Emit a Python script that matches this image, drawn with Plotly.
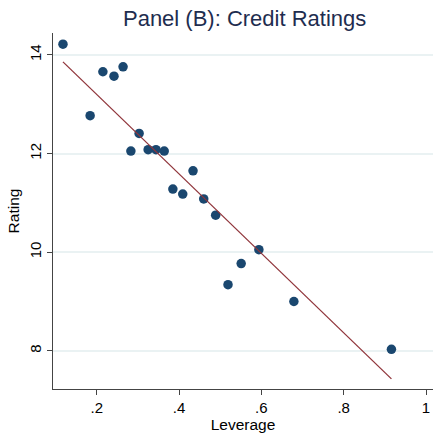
import numpy as np
import plotly.graph_objects as go

leverage = [0.118, 0.184, 0.215, 0.242, 0.264, 0.283, 0.303, 0.325, 0.344, 0.364,
            0.385, 0.409, 0.434, 0.460, 0.489, 0.519, 0.551, 0.594, 0.679, 0.916]
rating = [14.22, 12.77, 13.66, 13.57, 13.76, 12.05, 12.41, 12.08, 12.08, 12.05,
          11.28, 11.18, 11.65, 11.08, 10.75, 9.34, 9.77, 10.05, 9.00, 8.03]

# fitted line parameters
fit_intercept = 14.811
fit_slope = -8.058

x_ticks = [0.2, 0.4, 0.6, 0.8, 1.0]
x_labels = [".2", ".4", ".6", ".8", "1"]
y_ticks = [8, 10, 12, 14]

fx = np.array([min(leverage), max(leverage)])
fy = fit_intercept + fit_slope * fx

fig = go.Figure()
fig.add_trace(go.Scatter(x=leverage, y=rating, mode="markers",
                         marker=dict(color="#1a476f", size=9.5, line=dict(width=0)),
                         showlegend=False))
fig.add_trace(go.Scatter(x=fx, y=fy, mode="lines",
                         line=dict(color="#90353b", width=1.3), showlegend=False))

font = "Liberation Sans, Arial, sans-serif"
fig.update_layout(
    width=433, height=433,
    margin=dict(l=53, r=0, t=33, b=44),
    paper_bgcolor="white", plot_bgcolor="white",
    font=dict(family=font, color="#000000", size=14),
    title=dict(text="Panel (B): Credit Ratings", x=0.565, xanchor="center",
               y=0.957, yanchor="middle",
               font=dict(size=22, color="#1e2d4f", family=font)),
    xaxis=dict(range=[0.0938, 1.017], tickvals=x_ticks, ticktext=x_labels,
               showgrid=False, zeroline=False, showline=True, linecolor="#444444",
               linewidth=1, ticks="outside", ticklen=5, tickcolor="#444444",
               tickfont=dict(size=15),
               title=dict(text="Leverage", font=dict(size=15.5), standoff=1)),
    yaxis=dict(range=[7.225, 14.446], tickvals=y_ticks, tickangle=-90,
               showgrid=True, gridcolor="#eaf2f3", gridwidth=1.5,
               zeroline=False, showline=True, linecolor="#444444", linewidth=1,
               ticks="outside", ticklen=5, tickcolor="#444444",
               tickfont=dict(size=15),
               title=dict(text="Rating", font=dict(size=15.5), standoff=3)),
)

fig.write_html("out.html")
